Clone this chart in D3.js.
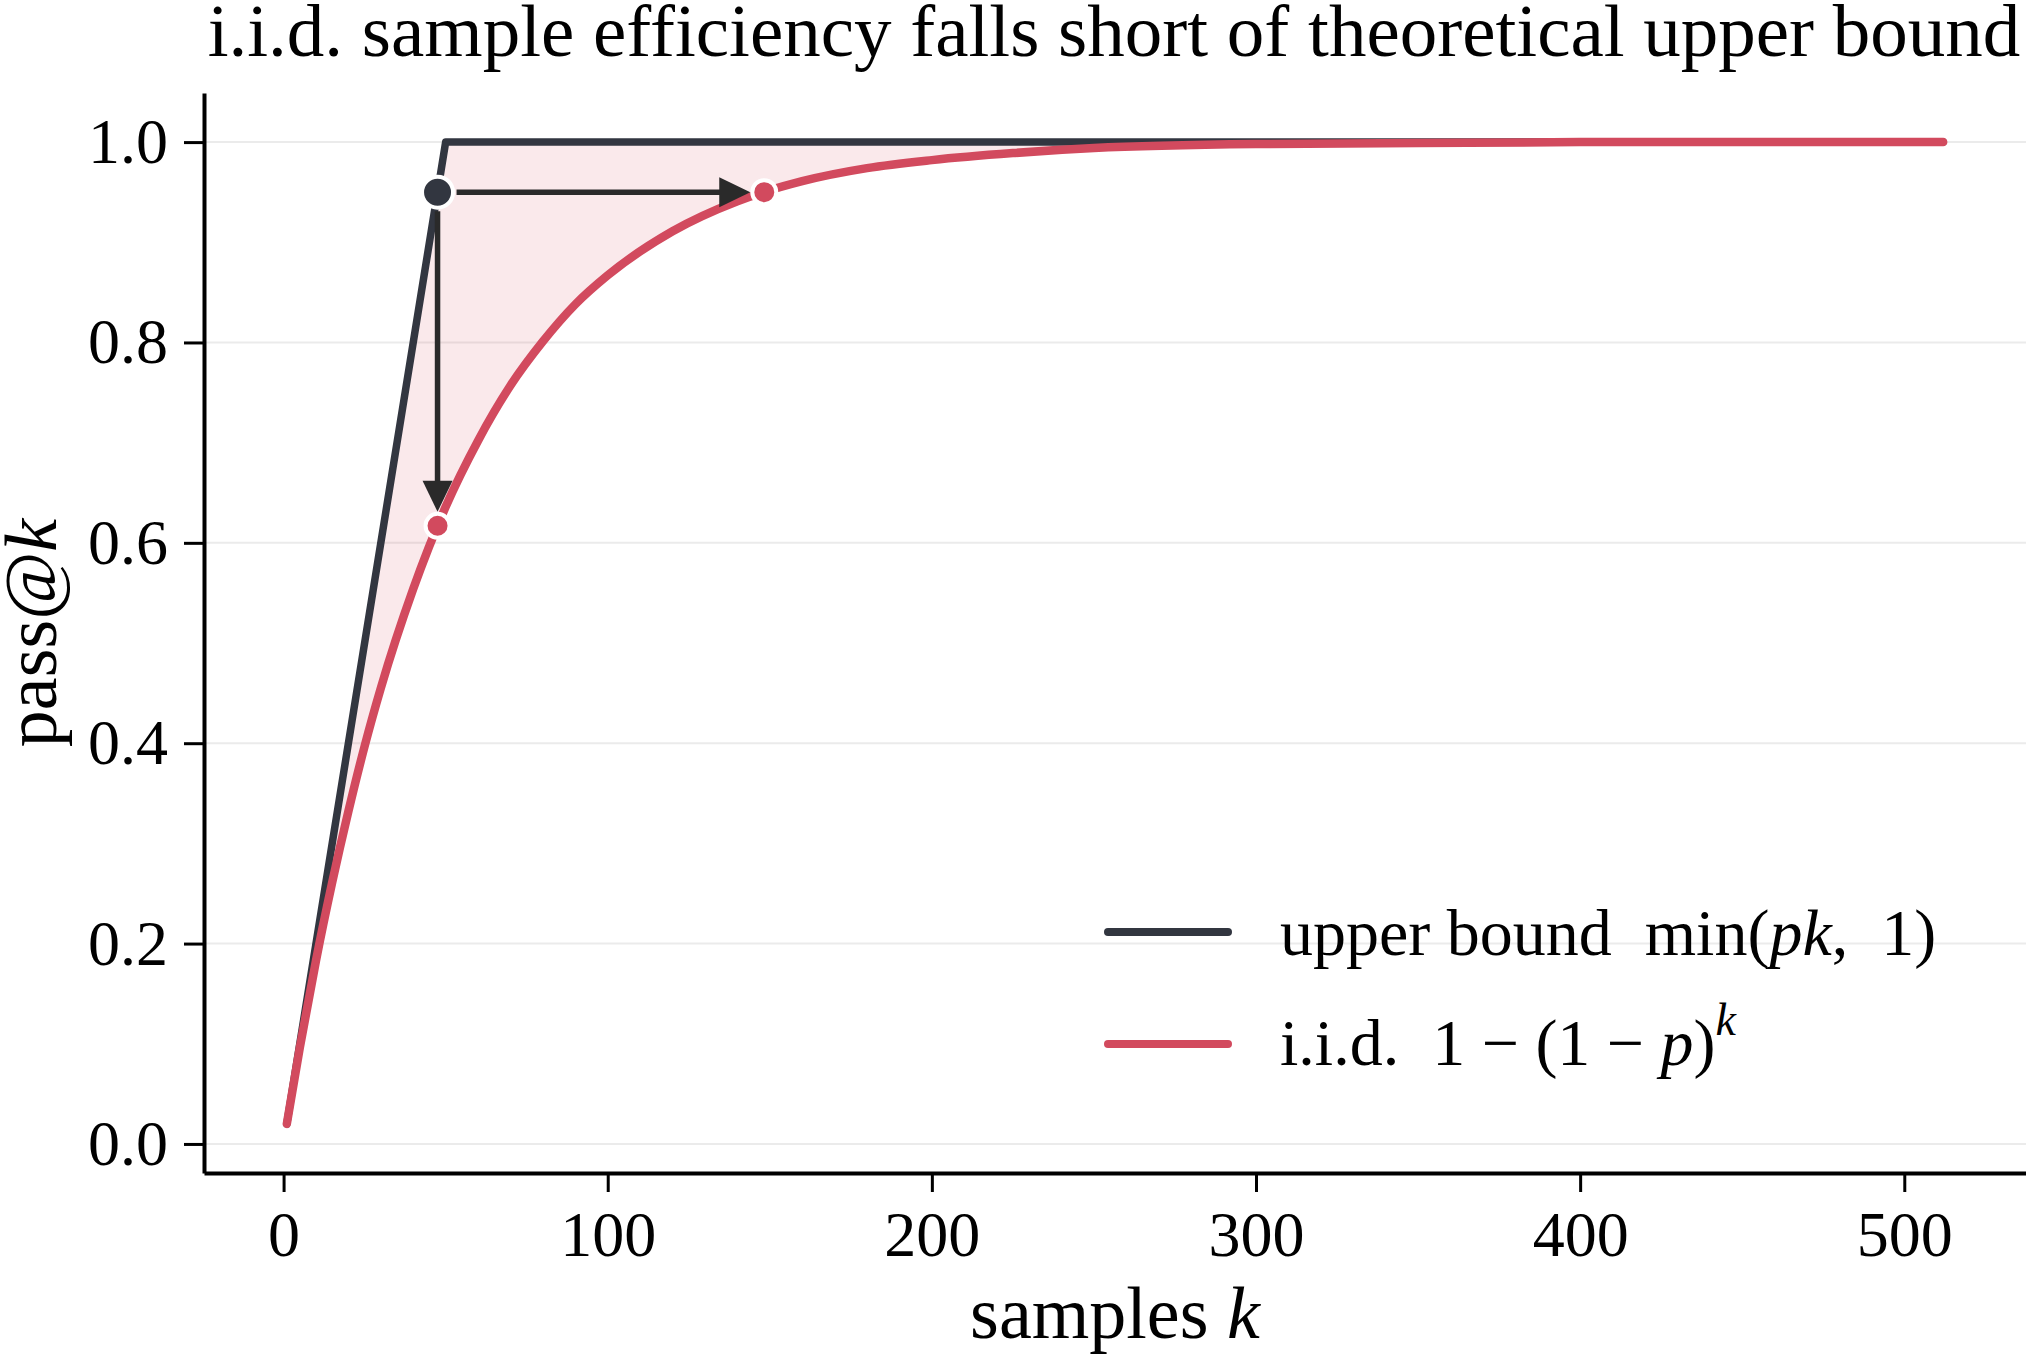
<!DOCTYPE html>
<html>
<head>
<meta charset="utf-8">
<script src="https://cdn.jsdelivr.net/npm/d3@7"></script>
<style>
  body { margin: 0; background: #fff; }
  text { font-family: "Liberation Serif", "Times New Roman", serif; fill: #000; }
</style>
</head>
<body>
<div id="chart"></div>
<script>
// data (p = 0.02)
const kTicks = [0, 100, 200, 300, 400, 500];
const passTicks = [0, 0.2, 0.4, 0.6, 0.8, 1.0];

const boundK = [1, 50, 512];
const boundPass = [0.02, 1.0, 1.0];

const iidK = [1, 5, 10, 15, 20, 25, 30, 40, 50, 60, 70, 80, 90, 100, 120, 140, 160, 180, 200, 225, 250, 300, 350, 400, 450, 512];
const iidPass = [0.020, 0.096, 0.183, 0.261, 0.332, 0.397, 0.455, 0.554, 0.636, 0.702, 0.757, 0.801, 0.838, 0.867, 0.911, 0.941, 0.961, 0.974, 0.982, 0.989, 0.994, 0.998, 0.999, 1.000, 1.000, 1.000];

// the 0.95 point on the bound, and where i.i.d. sits at the same k / reaches 0.95
const boundMark = { k: 47.5, pass: 0.95 };
const iidMarksK = [148.3, 47.5];
const iidMarksPass = [0.95, 0.617];

const W = 2026, H = 1356;
const dark = "#323640", red = "#d24a5e";

const svg = d3.select("#chart")
    .append("svg")
    .attr("width", W)
    .attr("height", H)
    .style("background", "#fff");

const x = d3.scaleLinear().domain([-24.55, 537.55]).range([204, 2026]);
const y = d3.scaleLinear().domain([-0.029, 1.049]).range([1173, 93]);

// grid
svg.append("g")
    .selectAll("line")
    .data(passTicks)
    .join("line")
    .attr("x1", x.range()[0])
    .attr("x2", x.range()[1])
    .attr("y1", d => y(d))
    .attr("y2", d => y(d))
    .attr("stroke", "#ebebeb")
    .attr("stroke-width", 2);

const bound = boundK.map((k, i) => [k, boundPass[i]]);
const iid = iidK.map((k, i) => [k, iidPass[i]]);

const lineLin = d3.line().x(d => x(d[0])).y(d => y(d[1]));
const lineSmooth = d3.line().x(d => x(d[0])).y(d => y(d[1])).curve(d3.curveMonotoneX);

// shaded gap between bound and i.i.d.
const gap = lineLin(bound) + lineSmooth(iid.slice().reverse()).replace(/^M/, "L") + "Z";
svg.append("path")
    .attr("d", gap)
    .attr("fill", red)
    .attr("fill-opacity", 0.12);

svg.append("path")
    .attr("d", lineLin(bound))
    .attr("fill", "none")
    .attr("stroke", dark)
    .attr("stroke-width", 7.5)
    .attr("stroke-linejoin", "round")
    .attr("stroke-linecap", "round");

svg.append("path")
    .attr("d", lineSmooth(iid))
    .attr("fill", "none")
    .attr("stroke", red)
    .attr("stroke-width", 8.5)
    .attr("stroke-linecap", "round");

// axes
const xAxis = svg.append("g")
    .attr("transform", `translate(0,${y.range()[0]})`)
    .call(d3.axisBottom(x).tickValues(kTicks).tickSize(19).tickSizeOuter(0).tickPadding(19));
const yAxis = svg.append("g")
    .attr("transform", `translate(${x.range()[0]},0)`)
    .call(d3.axisLeft(y).tickValues(passTicks).tickFormat(d3.format(".1f")).tickSize(20).tickSizeOuter(0).tickPadding(16));

[xAxis, yAxis].forEach(g => {
    g.select(".domain").attr("stroke", "#000").attr("stroke-width", 4);
    g.selectAll(".tick line").attr("stroke", "#000").attr("stroke-width", 3);
    g.selectAll(".tick text")
        .attr("font-family", "Liberation Serif, Times New Roman, serif")
        .attr("font-size", 64)
        .attr("fill", "#000");
});

// arrows from the bound point
const arrowColor = "#2a2a2a";
function arrow(x1, y1, x2, y2, startGap, endGap) {
    const len = Math.hypot(x2 - x1, y2 - y1);
    const ux = (x2 - x1) / len, uy = (y2 - y1) / len;
    const sx = x1 + ux * startGap, sy = y1 + uy * startGap;
    const tx = x2 - ux * endGap, ty = y2 - uy * endGap;
    const head = 31, half = 15;
    const bx = tx - ux * head, by = ty - uy * head;
    svg.append("line")
        .attr("x1", sx).attr("y1", sy)
        .attr("x2", bx + ux * 2).attr("y2", by + uy * 2)
        .attr("stroke", arrowColor)
        .attr("stroke-width", 5.5);
    svg.append("path")
        .attr("d", `M${tx},${ty}L${bx - uy * half},${by + ux * half}L${bx + uy * half},${by - ux * half}Z`)
        .attr("fill", arrowColor);
}
iidMarksK.forEach((k, i) => {
    arrow(x(boundMark.k), y(boundMark.pass), x(k), y(iidMarksPass[i]), 19, 14);
});

// markers
svg.append("circle")
    .attr("cx", x(boundMark.k))
    .attr("cy", y(boundMark.pass))
    .attr("r", 15.5)
    .attr("fill", dark)
    .attr("stroke", "#fff")
    .attr("stroke-width", 4);

svg.append("g")
    .selectAll("circle")
    .data(iidMarksK)
    .join("circle")
    .attr("cx", d => x(d))
    .attr("cy", (d, i) => y(iidMarksPass[i]))
    .attr("r", 12)
    .attr("fill", red)
    .attr("stroke", "#fff")
    .attr("stroke-width", 4);

// title and axis labels
svg.append("text")
    .attr("x", 1114)
    .attr("y", 56)
    .attr("text-anchor", "middle")
    .attr("font-size", 75)
    .text("i.i.d. sample efficiency falls short of theoretical upper bound");

const xl = svg.append("text")
    .attr("x", 1115)
    .attr("y", 1338)
    .attr("text-anchor", "middle")
    .attr("font-size", 74);
xl.append("tspan").text("samples ");
xl.append("tspan").attr("font-style", "italic").text("k");

const yl = svg.append("text")
    .attr("transform", "translate(56,633) rotate(-90)")
    .attr("text-anchor", "middle")
    .attr("font-size", 74);
yl.append("tspan").text("pass@");
yl.append("tspan").attr("font-style", "italic").text("k");

// legend
const legend = svg.append("g").attr("transform", "translate(1108,0)");
const legendColors = [dark, red];
const legendY = [932, 1044];
legendColors.forEach((c, i) => {
    legend.append("line")
        .attr("x1", 0).attr("x2", 120)
        .attr("y1", legendY[i]).attr("y2", legendY[i])
        .attr("stroke", c)
        .attr("stroke-width", 8)
        .attr("stroke-linecap", "round");
});

const l1 = legend.append("text")
    .attr("x", 172)
    .attr("y", 955)
    .attr("font-size", 66)
    .style("white-space", "pre");
l1.append("tspan").text("upper bound  min(");
l1.append("tspan").attr("font-style", "italic").text("pk");
l1.append("tspan").text(",  1)");

const l2 = legend.append("text")
    .attr("x", 172)
    .attr("y", 1065)
    .attr("font-size", 66)
    .style("white-space", "pre");
l2.append("tspan").text("i.i.d.  1 \u2212 (1 \u2212 ");
l2.append("tspan").attr("font-style", "italic").text("p");
l2.append("tspan").text(")");
l2.append("tspan").attr("font-style", "italic").attr("font-size", 46).attr("dy", -30).text("k");
</script>
</body>
</html>
